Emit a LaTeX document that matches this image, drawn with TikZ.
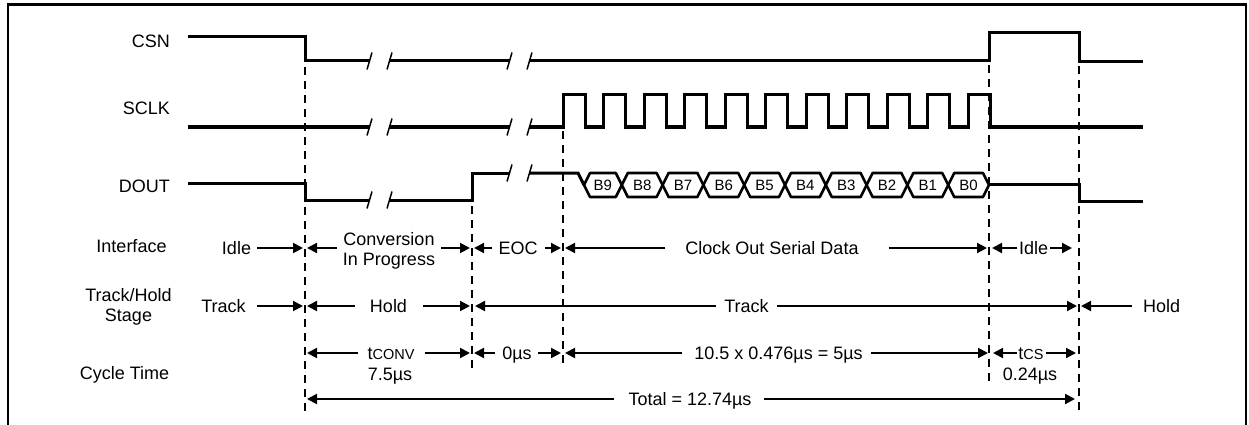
\documentclass[tikz,border=0pt]{standalone}
\usepackage{fontspec}
\setmainfont{Liberation Sans}
\usetikzlibrary{arrows.meta,calc}
\begin{document}
\begin{tikzpicture}[x=1pt,y=-1pt,
  wave/.style={line width=3pt, line join=miter},
  brk/.style={line width=1.5pt},
  vdash/.style={line width=2.2pt, dash pattern=on 8pt off 6pt},
  arr/.style={line width=2pt, -{Triangle[length=10pt,width=10pt]}, shorten >=2pt},
  lbl/.style={font=\fontsize{18}{21}\selectfont, inner sep=0pt, text height=12.9pt, text depth=0pt},
  ml/.style={font=\fontsize{18}{20.5}\selectfont, inner sep=0pt, align=center},
  bit/.style={font=\fontsize{15}{17}\selectfont, inner sep=0pt, text height=10.7pt, text depth=0pt},
  sub/.style={font=\fontsize{14.5}{16}\selectfont},
]
\useasboundingbox (0,0) rectangle (1249,425);
% frame
\draw[line width=2.5pt] (8,430) -- (8,4.5) -- (1246,4.5) -- (1246,430);

% signal names
\node[lbl, anchor=east] (csn) at (170,41) {CSN};
\node[lbl, anchor=east] (sclk) at (170,108) {SCLK};
\node[lbl, anchor=east] (dout) at (170,186.5) {DOUT};

% row names
\node[lbl] (ifc) at (131.5,246) {Interface};
\node[ml] (tho) at (128.5,307) {Track/Hold\\Stage};
\node[lbl] (cyc) at (124.5,373) {Cycle Time};

% CSN
\draw[wave] (188,37) -- (305,37) -- (305,61) -- (369.5,61);
\draw[wave] (389.5,61) -- (509.5,61);
\draw[wave] (529.5,61) -- (989,61) -- (989,33) -- (1079,33) -- (1079,61.5) -- (1143,61.5);
\foreach \x in {369.5,389.5,509.5,529.5} \draw[brk] (\x-2.5,69.5) -- (\x+2.5,52.5);

% SCLK
\draw[wave] (188,127) -- (369.5,127);
\draw[wave] (389.5,127) -- (509.5,127);
\draw[wave] (529.5,127) -- (563,127)
  \foreach \k in {0,...,10} { -- ({563+40.5*\k},94.5) -- ({585+40.5*\k},94.5) -- ({585+40.5*\k},127) -- ({563+40.5*(\k+1)},127) }
  -- (1143,127);
\foreach \x in {369.5,389.5,509.5,529.5} \draw[brk] (\x-2.5,135.5) -- (\x+2.5,118.5);

% DOUT
\draw[wave] (188,183) -- (305,183) -- (305,200) -- (369.5,200);
\draw[wave] (389.5,200) -- (472,200) -- (472,173) -- (509.5,173);
\draw[wave] (529.5,173) -- (578,173) -- (584,185);
\foreach \x in {369.5,389.5} \draw[brk] (\x-2.5,208.5) -- (\x+2.5,191.5);
\foreach \x in {509.5,529.5} \draw[brk] (\x-2.5,181.5) -- (\x+2.5,164.5);
\foreach \l/\r/\b in {584/621.8/9, 621.8/662.6/8, 662.6/703.4/7, 703.4/744.2/6, 744.2/785/5,
                      785/825.8/4, 825.8/866.6/3, 866.6/907.4/2, 907.4/948.2/1, 948.2/989/0} {
  \draw[wave, line width=2.6pt, line join=round] (\l,185) -- (\l+6,173) -- (\r-6,173) -- (\r,185) -- (\r-6,197) -- (\l+6,197) -- cycle;
  \node[bit] (b\b) at ({(\l+\r)/2},185) {B\b};
}
\draw[wave] (989,184) -- (1079,184) -- (1079,201) -- (1143,201);

% dashed markers
\coordinate (d1t) at (305,67);   \coordinate (d1b) at (305,412);
\coordinate (d2t) at (472,206);  \coordinate (d2b) at (472,372);
\coordinate (d3t) at (563,131);  \coordinate (d3b) at (563,367);
\coordinate (d4t) at (989,65);   \coordinate (d4b) at (989,385);
\coordinate (d5t) at (1079,66);  \coordinate (d5b) at (1079,413);
\foreach \d in {d1,d2,d3,d4,d5} \draw[vdash] (\d t) -- (\d b);

% rows
\coordinate (rI) at (0,248);

% Interface row
\node[lbl] (idle1) at (236.5,248) {Idle};
\node[ml] (conv) at (389,251) {Conversion\\In Progress};
\node[lbl] (eoc) at (518,248) {EOC};
\node[lbl] (cosd) at (772,248) {Clock Out Serial Data};
\node[lbl] (idle2) at (1033.5,248) {Idle};
\draw[arr] ([xshift=6pt]idle1.east) -- (idle1 -| d1t);
\draw[arr] ($(conv.west |- rI)+(-6,0)$) -- (d1t |- rI);
\draw[arr] ($(conv.east |- rI)+(6,0)$) -- (d2t |- rI);
\draw[arr] ([xshift=-6pt]eoc.west) -- (eoc -| d2t);
\draw[arr] ([xshift=7pt]eoc.east) -- (eoc -| d3t);
\draw[arr] ([xshift=-20pt]cosd.west) -- (cosd -| d3t);
\draw[arr] ([xshift=30pt]cosd.east) -- (cosd -| d4t);
\draw[arr, shorten >=3pt] ([xshift=-1.5pt]idle2.west) -- (idle2 -| d4t);
\draw[arr, shorten >=7pt] ([xshift=2pt]idle2.east) -- (idle2 -| d5t);

% Track/Hold row
\node[lbl] (track1) at (223.5,306) {Track};
\node[lbl] (hold1) at (388.5,306) {Hold};
\node[lbl] (track2) at (746.5,306) {Track};
\node[lbl] (hold2) at (1161.5,306) {Hold};
\draw[arr] ([xshift=11pt]track1.east) -- (track1 -| d1t);
\draw[arr] ([xshift=-15pt]hold1.west) -- (hold1 -| d1t);
\draw[arr] ([xshift=16pt]hold1.east) -- (hold1 -| d2t);
\draw[arr, shorten >=3pt] ([xshift=-8pt]track2.west) -- (track2 -| d2t);
\draw[arr] ([xshift=8pt]track2.east) -- (track2 -| d5t);
\draw[arr] ([xshift=-11pt]hold2.west) -- (hold2 -| d5t);

% Cycle time row
\node[lbl] (tconv) at (391,353) {t{\fontsize{14.5}{16}\selectfont CONV}};
\node[lbl] (tconvv) at (390,374.5) {7.5µs};
\node[lbl] (zus) at (517,353) {0µs};
\node[lbl] (calc) at (778.5,353) {10.5 x 0.476µs = 5µs};
\node[lbl] (tcs) at (1031,353) {t{\fontsize{14.5}{16}\selectfont CS}};
\node[lbl] (tcsv) at (1030,374.5) {0.24µs};
\draw[arr] ([xshift=-9pt]tconv.west) -- (tconv -| d1t);
\draw[arr] ([xshift=10pt]tconv.east) -- (tconv -| d2t);
\draw[arr] ([xshift=-7pt]zus.west) -- (zus -| d2t);
\draw[arr] ([xshift=6pt]zus.east) -- (zus -| d3t);
\draw[arr] ([xshift=-12pt]calc.west) -- (calc -| d3t);
\draw[arr, shorten >=1pt] ([xshift=8pt]calc.east) -- (calc -| d4t);
\draw[arr, shorten >=4pt] ([xshift=-1.5pt]tcs.west) -- (tcs -| d4t);
\draw[arr, shorten >=3pt] ([xshift=2pt]tcs.east) -- (tcs -| d5t);

% Total row
\node[lbl] (total) at (690,399) {Total = 12.74µs};
\draw[arr] ([xshift=-14pt]total.west) -- (total -| d1t);
\draw[arr, shorten >=4pt] ([xshift=12pt]total.east) -- (total -| d5t);
\end{tikzpicture}
\end{document}
